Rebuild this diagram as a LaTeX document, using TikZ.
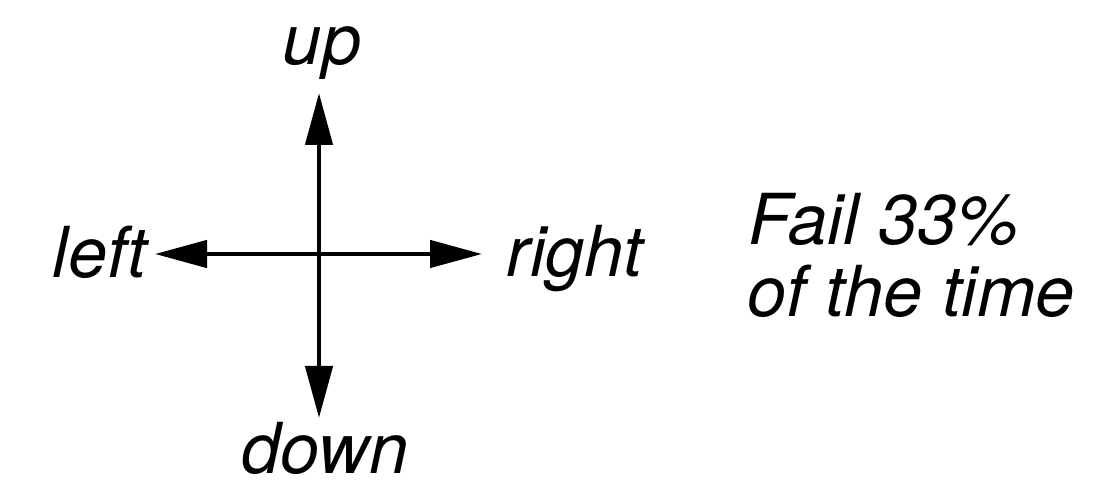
\documentclass[tikz,border=0pt]{standalone}
\usepackage{fontspec}
\setmainfont{TeX Gyre Heros}
\usetikzlibrary{arrows.meta,positioning}

\begin{document}
\begin{tikzpicture}[>={Triangle[length=5.2mm,width=2.7mm]},
    lbl/.style={font=\fontsize{20}{24}\selectfont\itshape, inner sep=0pt},
    dir/.style={->, line width=1.3pt}]

    % page frame
    \useasboundingbox (0,0) rectangle (10.97,4.85);

    % centre of the cross and arrow tips
    \coordinate (c) at (3.19,2.31);
    \coordinate (uptip) at (3.19,3.92);
    \coordinate (downtip) at (3.19,0.67);
    \coordinate (lefttip) at (1.55,2.31);
    \coordinate (righttip) at (4.82,2.31);

    % direction labels
    \node[lbl, anchor=base] (up) at (3.22,4.20) {up};
    \node[lbl, anchor=base] (down) at (3.25,0.12) {down};
    \node[lbl, anchor=base east] (left) at (1.48,2.07) {left};
    \node[lbl, anchor=base west] (right) at (5.06,2.08) {right};

    % the four moves
    \draw[dir] (c) -- (uptip);
    \draw[dir] (c) -- (downtip);
    \draw[dir] (c) -- (lefttip);
    \draw[dir] (c) -- (righttip);

    % failure note
    \node[lbl, anchor=base west] (fail) at (7.48,2.40) {Fail 33\%};
    \node[lbl, anchor=base west] (time) at (7.47,1.68) {of the time};

\end{tikzpicture}
\end{document}
